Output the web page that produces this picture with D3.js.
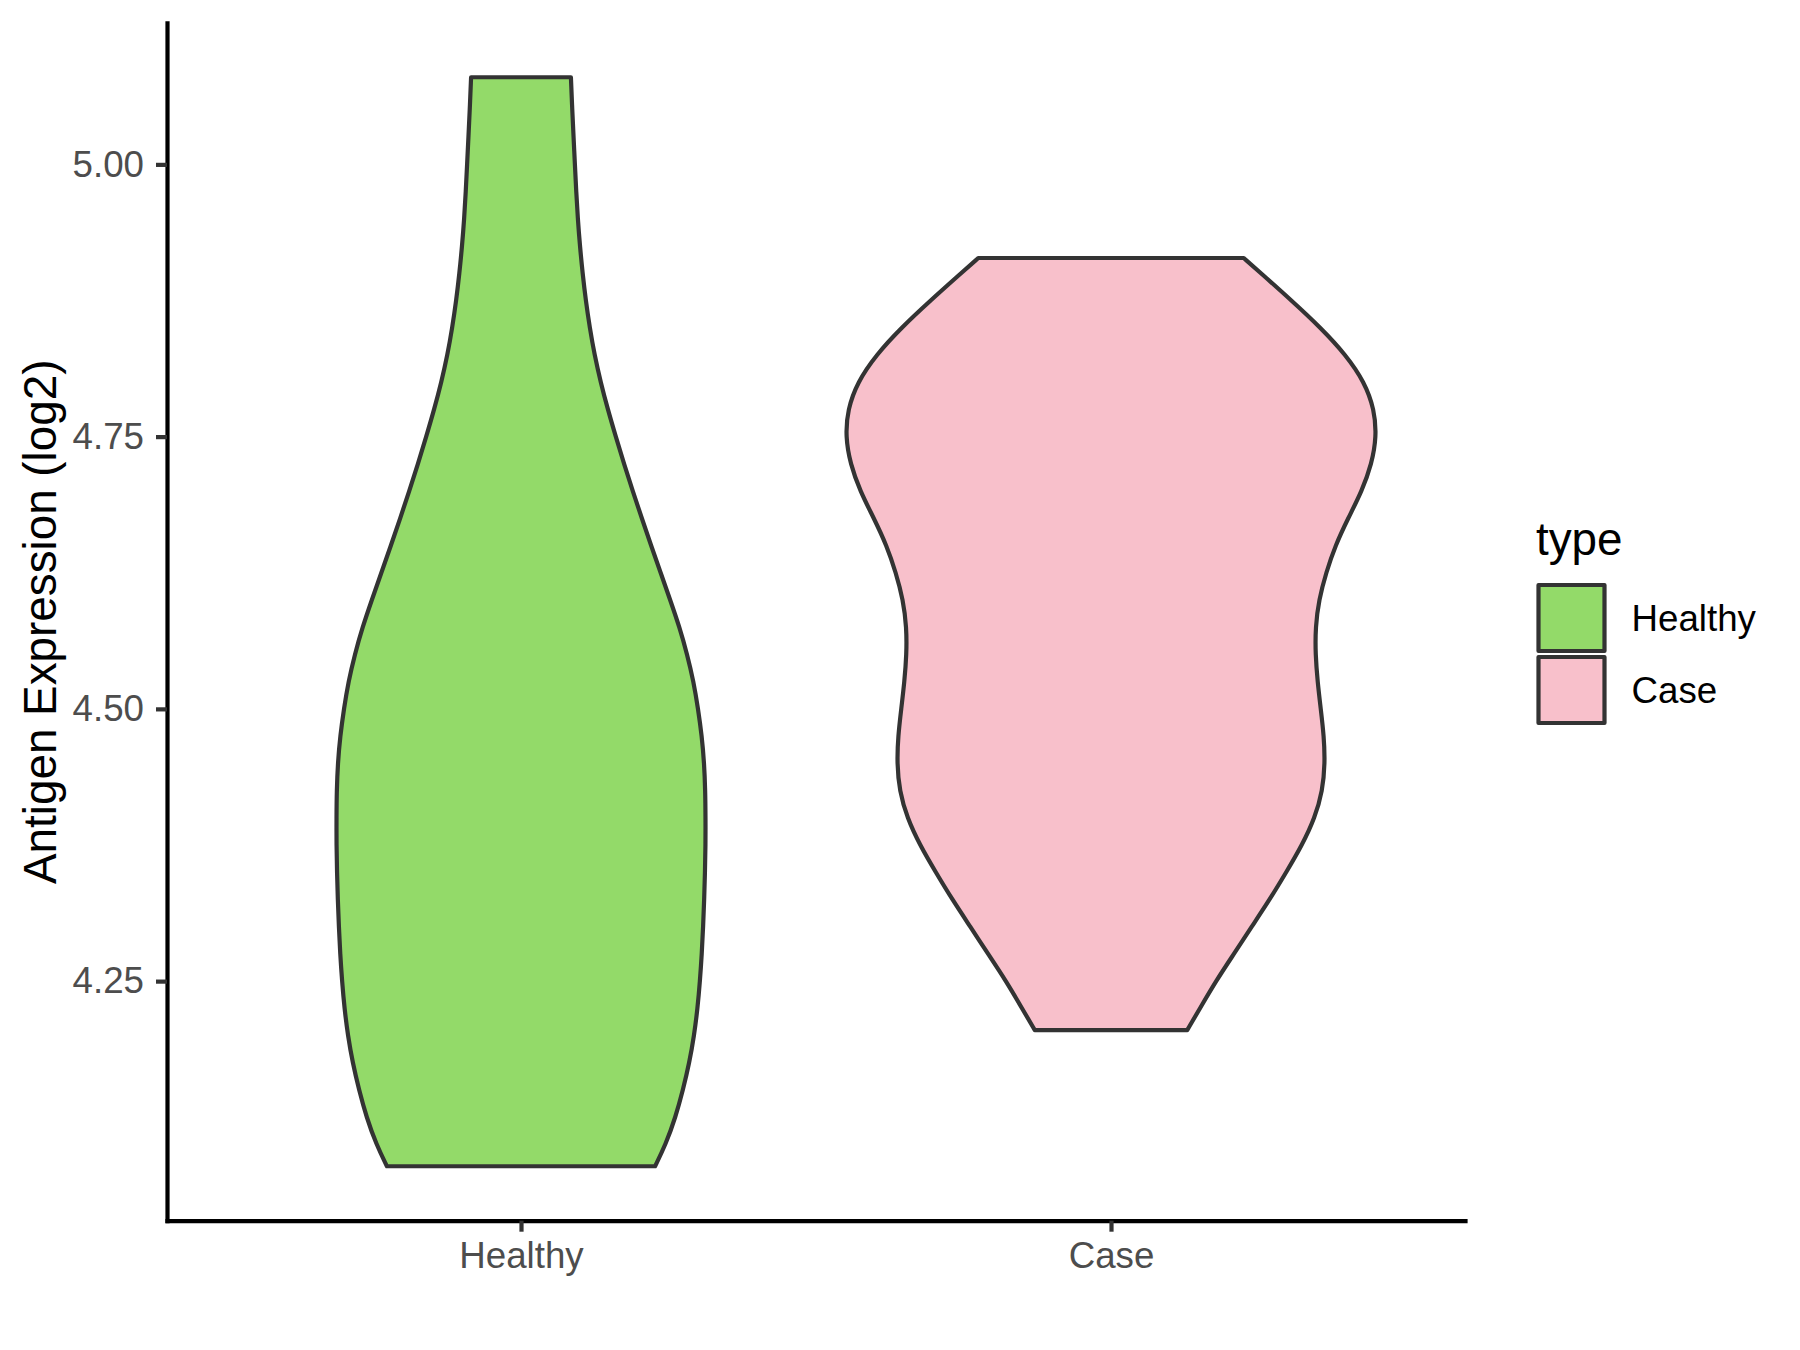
<!DOCTYPE html>
<html>
<head>
<meta charset="utf-8">
<script src="https://cdnjs.cloudflare.com/ajax/libs/d3/7.8.5/d3.min.js"></script>
<style>
  body { margin: 0; background: #fff; }
  svg { display: block; font-family: "Liberation Sans", Arial, sans-serif; }
</style>
</head>
<body>
<svg id="chart" width="1800" height="1350"></svg>
<script>
//--data: categories, violin outlines (value, relative half width)--//
var categories = ["Healthy", "Case"];
var colors = ["#93DA69", "#F8C0CB"];
var yTicks = [4.25, 4.50, 4.75, 5.00];

var healthyY = [4.080, 4.100, 4.125, 4.150, 4.175, 4.200, 4.225, 4.250, 4.275, 4.300, 4.325, 4.350, 4.375, 4.400, 4.425, 4.450, 4.475, 4.500, 4.525, 4.550, 4.575, 4.600, 4.625, 4.650, 4.675, 4.700, 4.725, 4.750, 4.775, 4.800, 4.825, 4.850, 4.875, 4.900, 4.925, 4.950, 4.975, 5.000, 5.025, 5.050, 5.080];
var healthyW = [0.505, 0.545, 0.582, 0.610, 0.634, 0.652, 0.665, 0.674, 0.681, 0.686, 0.690, 0.693, 0.695, 0.695, 0.694, 0.690, 0.681, 0.667, 0.650, 0.626, 0.597, 0.562, 0.526, 0.490, 0.455, 0.421, 0.388, 0.357, 0.327, 0.300, 0.277, 0.259, 0.244, 0.232, 0.222, 0.214, 0.208, 0.203, 0.198, 0.193, 0.188];

var caseY = [4.205, 4.225, 4.250, 4.275, 4.300, 4.325, 4.350, 4.375, 4.400, 4.425, 4.450, 4.475, 4.500, 4.525, 4.550, 4.575, 4.600, 4.625, 4.650, 4.675, 4.700, 4.725, 4.750, 4.775, 4.800, 4.825, 4.850, 4.875, 4.900, 4.914];
var caseW = [0.287, 0.335, 0.395, 0.463, 0.530, 0.598, 0.660, 0.720, 0.768, 0.797, 0.806, 0.802, 0.790, 0.778, 0.770, 0.770, 0.783, 0.810, 0.845, 0.893, 0.945, 0.982, 1.000, 0.992, 0.955, 0.885, 0.790, 0.680, 0.565, 0.500];
//--data--//

var violins = [
    {name: "Healthy", pts: healthyY.map((v, i) => ({v: v, w: healthyW[i]}))},
    {name: "Case", pts: caseY.map((v, i) => ({v: v, w: caseW[i]}))}
];

//--margins--//
var svg = d3.select("#chart"),
    panel = {left: 167, right: 1465, top: 22.8, bottom: 1220.7};

//--scales--//
var x = d3.scalePoint()
    .domain(categories)
    .range([panel.left, panel.right])
    .padding(0.6);

var allY = healthyY.concat(caseY);
var lo = d3.min(allY), hi = d3.max(allY), pad = (hi - lo) * 0.05;
var y = d3.scaleLinear()
    .domain([lo - pad, hi + pad])
    .range([panel.bottom, panel.top]);

var z = d3.scaleOrdinal().domain(categories).range(colors);

var halfW = 0.45 * x.step();

//--violins--//
svg.selectAll("path.violin")
    .data(violins)
    .enter().append("path")
    .attr("class", "violin")
    .attr("fill", d => z(d.name))
    .attr("stroke", "#333333")
    .attr("stroke-width", 4.2)
    .attr("stroke-linejoin", "round")
    .attr("d", function(d) {
        var cx = x(d.name);
        return d3.area()
            .y(p => y(p.v))
            .x0(p => cx - p.w * halfW)
            .x1(p => cx + p.w * halfW)
            .curve(d3.curveBasis)(d.pts);
    });

//--axes--//
var yAxis = svg.append("g")
    .attr("transform", `translate(${panel.left},0)`)
    .call(d3.axisLeft(y).tickValues(yTicks).tickFormat(d3.format(".2f")).tickSize(11).tickSizeOuter(0).tickPadding(12));

var xAxis = svg.append("g")
    .attr("transform", `translate(0,${panel.bottom})`)
    .call(d3.axisBottom(x).tickSize(11).tickSizeOuter(0));

[yAxis, xAxis].forEach(function(g) {
    g.select(".domain").attr("stroke", "#000").attr("stroke-width", 4.2).attr("stroke-linecap", "square");
    g.selectAll(".tick line").attr("stroke", "#333333").attr("stroke-width", 4.2);
    g.selectAll(".tick text")
        .attr("fill", "#4D4D4D")
        .style("font-size", "36.7px")
        .style("font-family", "Liberation Sans, Arial, sans-serif");
});

xAxis.selectAll(".tick text").attr("y", 47.5).attr("dy", 0);

//--axis title--//
svg.append("text")
    .attr("transform", `translate(56,${(panel.top + panel.bottom) / 2}) rotate(-90)`)
    .attr("text-anchor", "middle")
    .style("font-size", "45.8px")
    .attr("fill", "#000")
    .text("Antigen Expression (log2)");

//--legend--//
var legend = svg.append("g").attr("class", "legend");

legend.append("text")
    .attr("x", 1536)
    .attr("y", 555)
    .style("font-size", "45.8px")
    .attr("fill", "#000")
    .text("type");

var lg = legend.selectAll("g.key")
    .data(categories)
    .enter().append("g")
    .attr("class", "key")
    .attr("transform", (d, i) => `translate(1538.5,${585 + i * 72})`);

lg.append("rect")
    .attr("width", 66)
    .attr("height", 66)
    .attr("fill", d => z(d))
    .attr("stroke", "#333333")
    .attr("stroke-width", 4.2)
    .attr("stroke-linejoin", "round");

lg.append("text")
    .attr("x", 93)
    .attr("y", 45.5)
    .style("font-size", "36.7px")
    .attr("fill", "#000")
    .text(d => d);
//--legend--//
</script>
</body>
</html>
